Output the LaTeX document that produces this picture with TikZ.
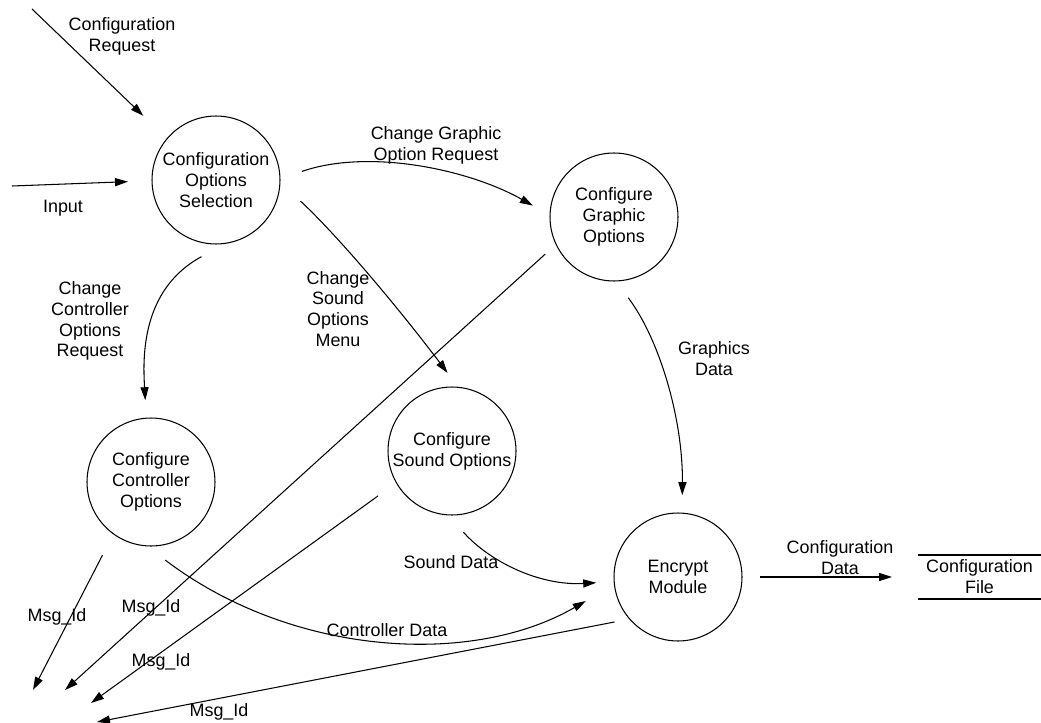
\documentclass[tikz,border=0pt]{standalone}
\usepackage{fontspec}
\setmainfont{Liberation Sans}
\usetikzlibrary{arrows.meta}
\begin{document}
\begin{tikzpicture}[x=0.02cm,y=-0.02cm,
  every node/.style={font=\fontsize{10.2}{11.9}\selectfont, align=center, inner sep=0pt},
  process/.style={draw, circle, minimum size=2.56cm, line width=0.6pt, outer sep=0.36cm},
  store/.style={minimum width=2.46cm, minimum height=0.88cm, outer sep=0pt},
  dataflow/.style={line width=0.6pt, -{Triangle[length=7.4pt,width=4.6pt]}},
  plainline/.style={line width=0.6pt}]
\useasboundingbox (0,0) rectangle (1041,723);

% processes
\node[process] (sel) at (216,180) {Configuration\\Options\\Selection};
\node[process] (gra) at (614,217) {Configure\\Graphic\\Options};
\node[process] (ctl) at (151,482) {Configure\\Controller\\Options};
\node[process] (snd) at (452,451) {Configure\\Sound Options};
\node[process] (enc) at (678,577) {Encrypt\\Module};

% data store
\node[store] (file) at (979.5,577) {Configuration\\File};
\draw[plainline] (file.north west) -- (file.north east);
\draw[plainline] (file.south west) -- (file.south east);

% external ends
\coordinate (crq) at (32,9);
\coordinate (inp) at (12,186);
\coordinate (m1) at (33,690);
\coordinate (m2) at (65,690);
\coordinate (m3) at (91,703);
\coordinate (m4) at (97,722);

% flows
\draw[dataflow, shorten >=0.30cm] (crq) -- (sel.139.6);
\draw[dataflow, shorten >=0.12cm] (inp) -- (sel.181.3);
\draw[dataflow, shorten <=0.09cm] (sel.5.3) .. controls (370,148) and (470,170) .. (gra.172.3);
\draw[dataflow, shorten <=0.12cm, shorten >=-0.09cm] (sel.-12.5) .. controls (340,238) and (400,310) .. (snd.95.9);
\draw[dataflow, shorten <=-0.12cm] (sel.256.3) .. controls (140,290) and (143,360) .. (ctl.94.2);
\draw[dataflow] (gra.-80.2) .. controls (660,340) and (683,420) .. (enc.87.2);
\draw[dataflow] (snd.-82.5) .. controls (490,562) and (540,586) .. (enc.184.8);
\draw[dataflow, shorten <=-0.07cm, shorten >=0.28cm] (ctl.-78.3) .. controls (290,655) and (470,668) .. (enc.192);
\draw[dataflow, shorten >=0.52cm] (enc.0) -- (file.west);

\draw[dataflow, shorten <=0.12cm] (ctl.236.1) -- (m1);
\draw[dataflow, shorten <=-0.08cm] (gra.209.2) -- (m2);
\draw[dataflow, shorten <=0.09cm] (snd.211.3) -- (m3);
\draw[dataflow, shorten <=-0.09cm] (enc.214.5) -- (m4);

% flow labels
\node (lcr) at (122,36) {Configuration\\Request};
\node (linp) at (63,208) {Input};
\node (lcg) at (436,145) {Change Graphic\\Option Request};
\node (lcs) at (338,309) {Change\\Sound\\Options\\Menu};
\node (lcc) at (90,321) {Change\\Controller\\Options\\Request};
\node (lgd) at (714,359) {Graphics\\Data};
\node (lsd) at (451,562) {Sound Data};
\node (lcd) at (387,630) {Controller Data};
\node (lcf) at (840,558) {Configuration\\Data};
\node (lm1) at (57,617) {Msg\_Id};
\node (lm2) at (151,608) {Msg\_Id};
\node (lm3) at (161,662) {Msg\_Id};
\node (lm4) at (219,712) {Msg\_Id};
\end{tikzpicture}
\end{document}
